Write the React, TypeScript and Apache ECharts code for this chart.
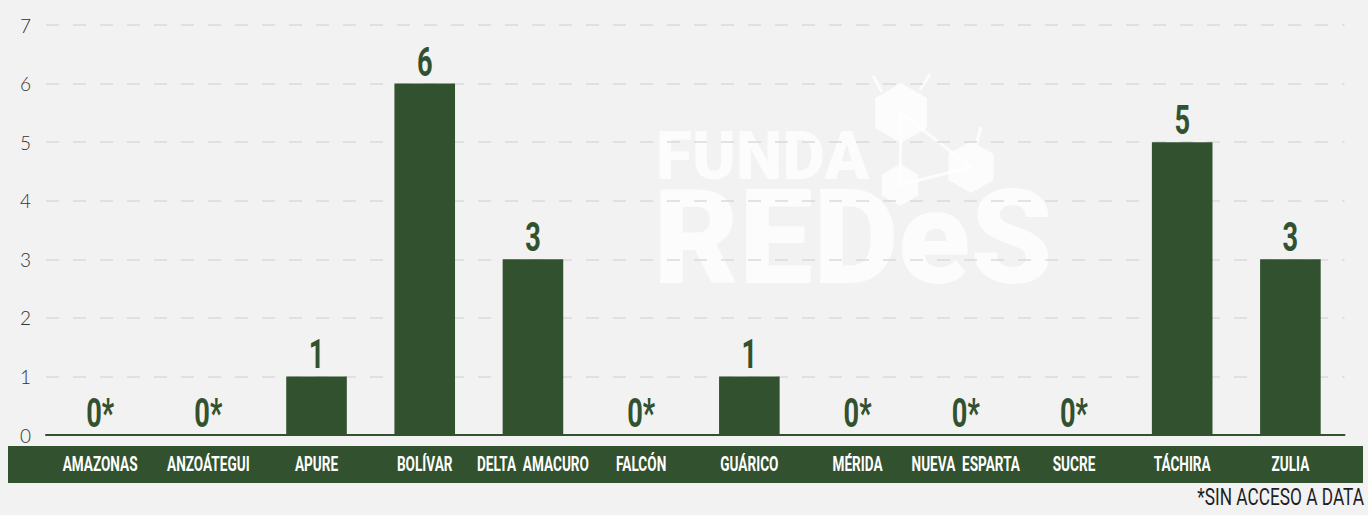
import React, { useEffect, useRef } from "react";
import * as echarts from "echarts";

const categories = [
  "AMAZONAS",
  "ANZOÁTEGUI",
  "APURE",
  "BOLÍVAR",
  "DELTA  AMACURO",
  "FALCÓN",
  "GUÁRICO",
  "MÉRIDA",
  "NUEVA  ESPARTA",
  "SUCRE",
  "TÁCHIRA",
  "ZULIA",
];
const values = [0, 0, 1, 6, 3, 0, 1, 0, 0, 0, 5, 3];
const yMin = 0;
const yMax = 7;
const yInterval = 1;
const footNote = "*SIN ACCESO A DATA";

const GREEN = "#32522f";
const BG = "#f2f2f2";
const COND = "Roboto, 'Liberation Sans', sans-serif";

function hexPoints(cx: number, cy: number, r: number): number[][] {
  const pts: number[][] = [];
  for (let i = 0; i < 6; i++) {
    const a = (Math.PI / 3) * i + Math.PI / 6;
    pts.push([cx + r * Math.cos(a), cy + r * Math.sin(a)]);
  }
  return pts;
}

export default function App() {
  const ref = useRef<HTMLDivElement>(null);

  useEffect(() => {
    if (!ref.current) return;
    const chart = echarts.init(ref.current, undefined, { renderer: "svg" });
    const wm = "rgba(255,255,255,0.72)";
    const pairs = values.map((v, i) => [categories[i], v]);
    const option: any = {
      animation: false,
      backgroundColor: BG,
      grid: { left: 46, right: 23.5, top: 25, bottom: 80, containLabel: false },
      graphic: [
        {
          type: "rect",
          z: 0,
          shape: { x: 8, y: 446, width: 1355, height: 37 },
          style: { fill: GREEN },
        },
        {
          type: "group",
          z: 1,
          children: [
            { type: "line", shape: { x1: 901, y1: 113, x2: 971, y2: 167 }, style: { stroke: wm, lineWidth: 3 } },
            { type: "line", shape: { x1: 901, y1: 113, x2: 900, y2: 185 }, style: { stroke: wm, lineWidth: 3 } },
            { type: "line", shape: { x1: 900, y1: 185, x2: 971, y2: 167 }, style: { stroke: wm, lineWidth: 3 } },
            { type: "line", shape: { x1: 873, y1: 76, x2: 882, y2: 92 }, style: { stroke: wm, lineWidth: 3 } },
            { type: "line", shape: { x1: 930, y1: 74, x2: 920, y2: 90 }, style: { stroke: wm, lineWidth: 3 } },
            { type: "line", shape: { x1: 981, y1: 127, x2: 976, y2: 145 }, style: { stroke: wm, lineWidth: 3 } },
            { type: "polygon", shape: { points: hexPoints(901, 113, 30) }, style: { fill: wm } },
            { type: "polygon", shape: { points: hexPoints(900, 185, 21) }, style: { fill: wm } },
            { type: "polygon", shape: { points: hexPoints(971, 167, 26) }, style: { fill: wm } },
            {
              type: "text",
              x: 653,
              y: 128,
              style: {
                text: "{a|FUNDA}\n{b|REDeS}",
                fill: wm,
                textAlign: "left",
                textVerticalAlign: "top",
                rich: {
                  a: { font: "900 66px Roboto, sans-serif", lineHeight: 56, fill: wm, padding: [0, 0, 0, 3] },
                  b: { font: "900 132px Roboto, sans-serif", lineHeight: 108, fill: wm },
                },
              },
            },
          ],
        },
        {
          type: "text",
          z: 3,
          x: 1364,
          y: 497,
          scaleX: 0.72,
          style: {
            text: footNote,
            fill: "#1e1e1e",
            font: `24px ${COND}`,
            textAlign: "right",
            textVerticalAlign: "middle",
          },
        },
      ],
      xAxis: {
        type: "category",
        data: categories,
        z: 5,
        axisLine: { show: true, lineStyle: { color: GREEN, width: 2 } },
        axisTick: { show: false },
        axisLabel: { show: false },
        splitLine: { show: false },
      },
      yAxis: {
        type: "value",
        min: yMin,
        max: yMax,
        interval: yInterval,
        axisLine: { show: false },
        axisTick: { show: false },
        axisLabel: {
          color: "#333333",
          fontFamily: "Lato, 'Open Sans', sans-serif",
          fontWeight: 300,
          fontSize: 19,
          margin: 15,
        },
        splitLine: {
          show: true,
          lineStyle: { color: "#dadada", width: 1.5, type: [13, 14] },
        },
      },
      series: [
        {
          type: "bar",
          data: values,
          barWidth: "56%",
          z: 4,
          itemStyle: { color: GREEN },
        },
        {
          type: "custom",
          z: 6,
          clip: false,
          silent: true,
          data: pairs,
          renderItem: (params: any, api: any) => {
            const v = api.value(1);
            const top = api.coord([api.value(0), v]);
            const base = api.coord([api.value(0), 0]);
            return {
              type: "group",
              children: [
                {
                  type: "text",
                  x: top[0],
                  y: top[1] - 8 - 14,
                  scaleX: 0.68,
                  style: {
                    text: v === 0 ? "0*" : String(v),
                    fill: GREEN,
                    font: `bold 40px ${COND}`,
                    textAlign: "center",
                    textVerticalAlign: "middle",
                  },
                },
                {
                  type: "text",
                  x: base[0],
                  y: base[1] + 29,
                  scaleX: 0.68,
                  style: {
                    text: categories[params.dataIndex],
                    fill: "#ffffff",
                    font: `bold 20px ${COND}`,
                    textAlign: "center",
                    textVerticalAlign: "middle",
                  },
                },
              ],
            };
          },
        },
      ],
    };
    chart.setOption(option);
    return () => chart.dispose();
  }, []);

  return (
    <div
      ref={ref}
      style={{ position: "fixed", left: 0, top: 0, width: 1368, height: 515, background: BG }}
    />
  );
}
